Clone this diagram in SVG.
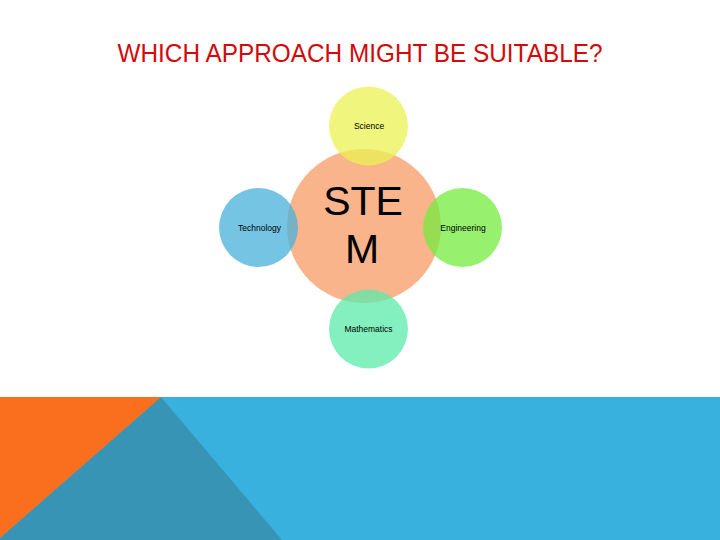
<svg xmlns="http://www.w3.org/2000/svg" width="720" height="540" viewBox="0 0 720 540">
<style>
.lbl{font-family:"Liberation Sans",Arial,sans-serif;font-size:8.5px;fill:#000;text-anchor:middle}
.big{font-family:"Liberation Sans",Arial,sans-serif;font-size:41px;fill:#000;text-anchor:middle}
.sat{opacity:0.75}
</style>
<rect width="720" height="540" fill="#ffffff"/>
<g id="band">
<rect x="0" y="397" width="720" height="143" fill="#39b1de"/>
<polygon points="161,397 282,540 0,540 0,538" fill="#3894b5"/>
<polygon points="0,397 161,397 0,538" fill="#f96f1e"/>
</g>
<text x="360" y="62" font-family="'Liberation Sans',Arial,sans-serif" font-size="25" fill="#d20a0a" text-anchor="middle" textLength="485" lengthAdjust="spacingAndGlyphs">WHICH APPROACH MIGHT BE SUITABLE?</text>
<g id="stem">
<circle cx="364" cy="226" r="77" fill="#f9b48c"/>
</g>
<g id="science" class="sat">
<circle cx="368.5" cy="126" r="39.5" fill="#ebf252"/>
</g>
<g id="technology" class="sat">
<circle cx="258.5" cy="227.5" r="39.5" fill="#48b0db"/>
</g>
<g id="engineering" class="sat">
<circle cx="462.5" cy="227.5" r="39.5" fill="#75eb3f"/>
</g>
<g id="mathematics" class="sat">
<circle cx="368.5" cy="329" r="39.5" fill="#5bebaa"/>
</g>
<g id="labels">
<text class="big" x="363" y="215">STE</text>
<text class="big" x="362" y="263">M</text>
<text class="lbl" x="369" y="129">Science</text>
<text class="lbl" x="259.5" y="231">Technology</text>
<text class="lbl" x="463" y="231">Engineering</text>
<text class="lbl" x="368.5" y="332">Mathematics</text>
</g>
<g id="connectors"/>
</svg>
